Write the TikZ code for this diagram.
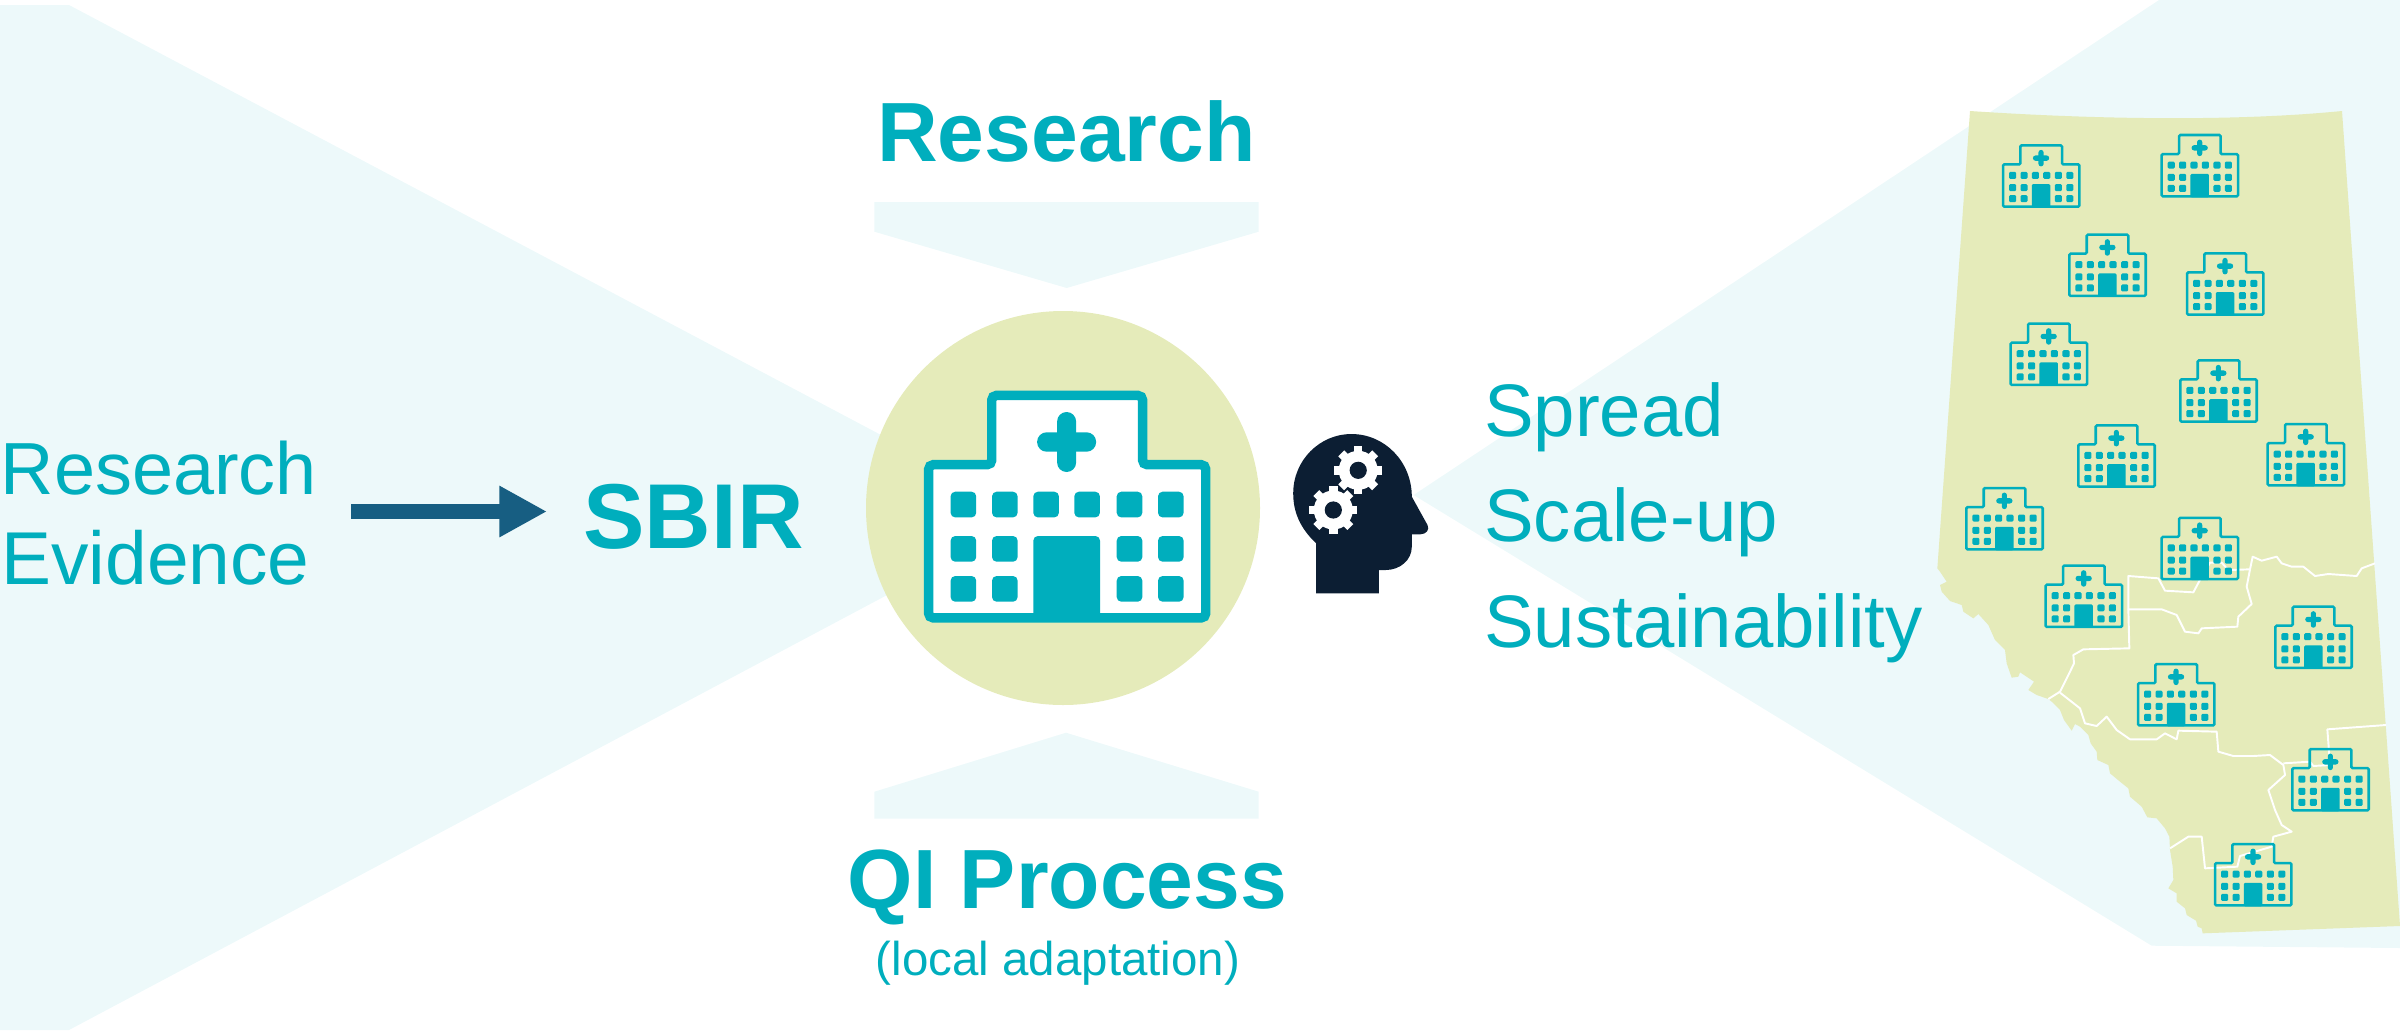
\documentclass[tikz,border=0pt]{standalone}
\usepackage{fontspec}
\setmainfont{Liberation Sans}
\usepackage{xcolor}
\usetikzlibrary{arrows.meta}
\definecolor{tealmain}{RGB}{0,174,189}
\definecolor{beamlight}{RGB}{237,249,250}
\definecolor{olivelight}{RGB}{229,235,186}
\definecolor{headdark}{RGB}{12,30,51}
\definecolor{arrowblue}{RGB}{23,94,130}
\tikzset{
  labelbase/.style={inner sep=0pt,text=tealmain,anchor=base},
  plainlabel/.style={labelbase,font=\fontsize{21.3}{25}\selectfont},
  boldlabel/.style={labelbase,font=\fontsize{23.9}{28}\bfseries\selectfont},
  sidelabel/.style={labelbase,anchor=base west,font=\fontsize{21.15}{25}\selectfont},
  beam/.style={fill=beamlight,draw=none},
  border/.style={draw=white,line width=0.55pt,line join=round},
  flowarrow/.style={draw=arrowblue,line width=4.44pt,-{Triangle[length=13.54pt,width=13.66pt,fill=arrowblue]}}
}
\newcommand{\hospital}[5]{%
  \pgfmathsetlengthmacro{\hospwin}{#3*1.3pt}%
  \pgfmathsetlengthmacro{\hosparm}{#3*2.7pt}%
  \begin{scope}[shift={(#1,#2)},scale=#3]
    \draw[tealmain,fill=#4,line width=#5,rounded corners=\hospwin] (4.75,74) -- (67.85,74) -- (67.85,4.75) -- (218.7,4.75) -- (218.7,74) -- (281.85,74) -- (281.85,227.2) -- (4.75,227.2) -- cycle;
    \fill[tealmain,rounded corners=\hospwin] (109.4,145.3) rectangle (176.1,231);
    \fill[tealmain,rounded corners=\hosparm] (133.2,21.3) rectangle (152.2,81.3);
    \fill[tealmain,rounded corners=\hosparm] (113.2,41.6) rectangle (172.2,61);
    \foreach \wx in {26.7,68.1,109.4,150.4,192.8,234.1}
      \fill[tealmain,rounded corners=\hospwin] (\wx,101) rectangle ++(25.6,25.7);
    \foreach \wx in {26.7,68.1,192.8,234.1}
      \foreach \wy in {145.3,185.3}
        \fill[tealmain,rounded corners=\hospwin] (\wx,\wy) rectangle ++(25.6,25.7);
  \end{scope}%
}
\newcommand{\headgear}[2]{%
  \begin{scope}[shift={(#1,#2)}]
    \fill[white] (0,0) circle (19.5);
    \foreach \ang in {0,45,...,315}
      \fill[white,rotate=\ang] (-4.2,-24) rectangle (4.2,-15);
    \fill[headdark] (0,0) circle (8.6);
  \end{scope}%
}
\begin{document}
\begin{tikzpicture}[x=0.01cm,y=-0.01cm]
\useasboundingbox (0,0) rectangle (2400,1033);

\fill[beam] (0,5) -- (69,5) -- (1000,498) -- (1000,535) -- (69,1030) -- (0,1030) -- cycle;
\fill[beam] (1413.6,495) -- (2159,0) -- (2400,0) -- (2400,948) -- (2151.7,945.7) -- cycle;
\fill[beam] (874.3,202) -- (1258.7,202) -- (1258.7,231.7) -- (1066.7,288) -- (874.3,231.7) -- cycle;
\fill[beam] (874.3,818.7) -- (1258.7,818.7) -- (1258.7,791.7) -- (1066,732.7) -- (874.3,791.7) -- cycle;
\fill[olivelight] (1063,508) circle (197);

\begin{scope}[shift={(1900,500)},scale=0.33333]
\fill[olivelight] (210,-1167) .. controls (570,-1143) and (990,-1134) .. (1326,-1167) -- (1500,1278) -- (908,1300) -- (905,1285) -- (893,1280) -- (888,1262) -- (860,1245) -- (855,1225) -- (830,1205) -- (830,1180) -- (805,1165) -- (820,1140) -- (818,1100) -- (810,1050) -- (808,1010) -- (795,985) -- (770,955) -- (742,952) -- (725,920) -- (690,890) -- (685,865) -- (660,845) -- (630,820) -- (625,795) -- (592,780) -- (590,755) -- (572,730) -- (565,705) -- (540,680) -- (525,672) -- (515,692) -- (492,660) -- (480,630) -- (455,605) -- (445,597) -- (410,585) -- (385,570) -- (402,545) -- (360,517) -- (355,530) -- (335,533) -- (320,490) -- (315,450) -- (285,420) -- (265,375) -- (235,342) -- (220,355) -- (190,335) -- (185,315) -- (150,303) -- (125,275) -- (120,255) -- (140,245) -- (120,215) -- (112,205) -- cycle;
\draw[border] (685,328) -- (685,228) -- (775,235) -- (795,272) -- (880,277) -- (897,245) -- (930,188) -- (965,188) -- (985,210) -- (1050,208) -- (1058,170) -- (1085,182) -- (1130,170) -- (1145,190) -- (1175,200) -- (1210,200) -- (1245,228) -- (1285,222) -- (1370,228) -- (1385,205) -- (1425,190);
\draw[border] (1050,208) -- (1040,260) -- (1055,312) -- (1015,350) -- (1012,380) -- (905,385) -- (895,400) -- (855,395) -- (830,345) -- (785,328) -- (685,328) -- (688,445) -- (550,448) -- (520,465) -- (522,490) -- (510,515) -- (480,575) -- (445,597);
\draw[border] (480,578) -- (540,625) -- (555,670) -- (590,678) -- (620,650) -- (650,690) -- (690,718) -- (770,718) -- (795,700) -- (830,718) -- (835,692) -- (950,695) -- (955,755) -- (1000,768) -- (1060,768) -- (1110,765) -- (1150,795) -- (1155,825) -- (1105,870) -- (1125,930) -- (1145,975) -- (1175,995) -- (1120,1010) -- (1115,1040) -- (1020,1068) -- (1012,1100) -- (915,1105) -- (905,1010) -- (865,1010) -- (810,1045);
\draw[border] (1150,790) -- (1230,785) -- (1240,798) -- (1290,795) -- (1282,688) -- (1458,675);
\end{scope}

\hospital{923.9}{390.7}{1}{white}{2.69pt}
\foreach \hx/\hy in {2001.7/144,2160.3/133.7,2068/233.3,2185.7/252,2009.3/322.3,2179/359,2077/424,2266.3/422.7,1965/486.7,2160.3/516.5,2044.3/564.3,2274/605.3,2136.7/662.7,2291/747.7,2213.7/842.7}
  {\hospital{\hx}{\hy}{0.2757}{none}{0.72pt}}

\fill[headdark] (1316.1,593.3) -- (1316.1,543.3) .. controls (1300,528) and (1293.2,512) .. (1293.2,493.3) .. controls (1293.2,460) and (1320,434) .. (1351.3,434) .. controls (1385,434) and (1411.8,462) .. (1411.8,496.7) -- (1427.5,525) .. controls (1430,530) and (1426,534.3) .. (1420.2,534.3) -- (1411.8,534.3) -- (1411.8,546.7) .. controls (1411.8,560) and (1400,570) .. (1385.8,570) -- (1378.9,570) -- (1378.9,593.3) -- cycle;
\headgear{1358.2}{470.3}
\headgear{1333.3}{510}

\coordinate (arrowstart) at (351,511.5);
\coordinate (arrowend) at (547,511.5);
\draw[flowarrow] (arrowstart) -- (arrowend);

\node[plainlabel,anchor=base west,font=\fontsize{21}{25}\selectfont] (evidenceone) at (0,494.3) {Research};
\node[plainlabel] (evidencetwo) at (155.5,584) {Evidence};
\node[labelbase,font=\fontsize{26.2}{30}\bfseries\selectfont] (sbir) at (693.5,548) {SBIR};
\node[boldlabel] (research) at (1066.5,161.3) {Research};
\node[boldlabel] (qiprocess) at (1067.5,908) {QI Process};
\node[labelbase,font=\fontsize{13.5}{16}\selectfont] (adaptation) at (1058,975.7) {(local adaptation)};
\node[sidelabel] (spread) at (1483.5,436) {Spread};
\node[sidelabel] (scaleup) at (1483.5,541.7) {Scale-up};
\node[sidelabel] (sustain) at (1483.5,647.3) {Sustainability};
\end{tikzpicture}
\end{document}
